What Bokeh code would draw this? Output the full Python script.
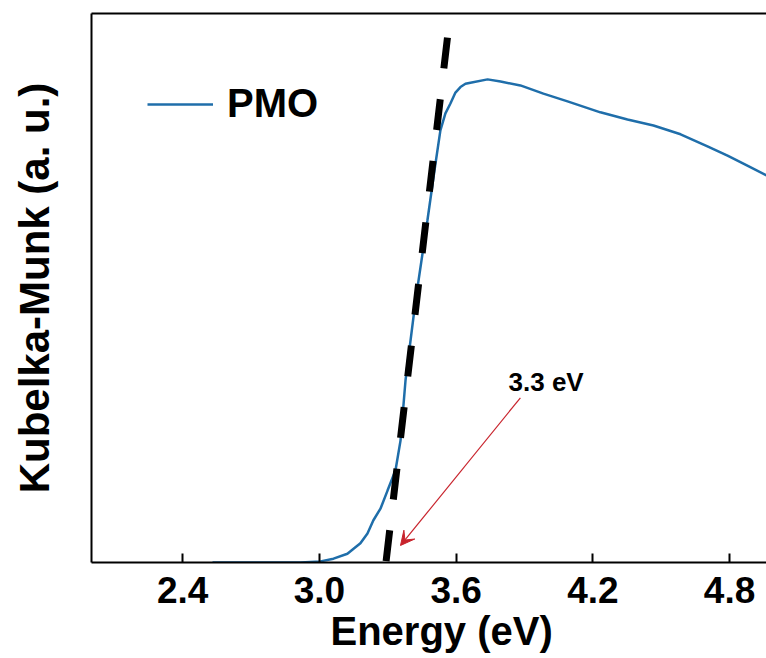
from bokeh.plotting import figure
from bokeh.models import LinearAxis, FixedTicker, Arrow, VeeHead, Range1d, Label, Title
from bokeh.embed import file_html
from bokeh.resources import INLINE

# ---- data ----
energy = [2.531, 2.742, 2.917, 3.005, 3.062, 3.123, 3.150, 3.180, 3.211, 3.237,
          3.268, 3.299, 3.334, 3.356, 3.378, 3.422, 3.474, 3.505, 3.531, 3.553,
          3.575, 3.597, 3.619, 3.641, 3.663, 3.738, 3.795, 3.882, 3.983, 4.089,
          4.233, 4.352, 4.466, 4.585, 4.703, 4.791, 4.878, 4.962]
km = [0.0, 0.0, 0.0, 0.002, 0.007, 0.016, 0.025, 0.035, 0.053, 0.077,
      0.098, 0.131, 0.168, 0.222, 0.332, 0.477, 0.623, 0.714, 0.787, 0.818,
      0.836, 0.856, 0.866, 0.872, 0.874, 0.880, 0.876, 0.869, 0.854, 0.840,
      0.820, 0.807, 0.796, 0.780, 0.758, 0.741, 0.723, 0.705]
tangent_x = [3.562, 3.292]
tangent_y = [0.956, 0.0]
x_ticks = [2.4, 3.0, 3.6, 4.2, 4.8]
x_tick_labels = ["2.4", "3.0", "3.6", "4.2", "4.8"]
x_title = "Energy (eV)"
y_title = "Kubelka-Munk (a. u.)"
gap_label = "3.3 eV"
arrow_start = (3.882, 0.300)
arrow_end = (3.356, 0.031)
label_pos = (3.830, 0.328)

FONT = "Liberation Sans"
BLUE = "#1f6eaa"

p = figure(width=766, height=658, output_backend="svg", toolbar_location=None,
           x_range=Range1d(2.0, 4.962), y_range=Range1d(0.0, 1.0),
           min_border_left=91, min_border_right=0, min_border_top=13,
           min_border_bottom=96, background_fill_color="white",
           border_fill_color="white", outline_line_color=None)
p.xgrid.visible = False
p.ygrid.visible = False

# curve
p.line(energy, km, line_color=BLUE, line_width=2.5, legend_label="PMO")
# tangent
p.line(tangent_x, tangent_y, line_color="black", line_width=7, line_dash="31 31")

# annotation
p.add_layout(Arrow(x_start=arrow_start[0], y_start=arrow_start[1],
                   x_end=arrow_end[0], y_end=arrow_end[1],
                   line_color="#c8232c", line_width=1.2,
                   end=VeeHead(size=14, fill_color="#c8232c", line_color="#c8232c")))
p.add_layout(Label(x=label_pos[0], y=label_pos[1], text=gap_label,
                   text_font=FONT, text_font_style="bold", text_font_size="26px",
                   text_color="black", text_baseline="alphabetic", text_align="left"))

# axes
xa = p.xaxis[0]
xa.ticker = FixedTicker(ticks=x_ticks)
xa.major_label_overrides = {t: l for t, l in zip(x_ticks, x_tick_labels)}
xa.major_tick_in = 9
xa.major_tick_out = 0
xa.minor_tick_line_color = None
xa.axis_line_width = 2
xa.major_tick_line_width = 2
xa.major_label_text_font = FONT
xa.major_label_text_font_style = "bold"
xa.major_label_text_font_size = "37px"
xa.major_label_text_color = "black"
xa.major_label_standoff = 14

ya = p.yaxis[0]
ya.ticker = FixedTicker(ticks=[])
ya.major_tick_in = 0
ya.major_tick_out = 0
ya.minor_tick_line_color = None
ya.axis_line_width = 2
ya.axis_label = y_title
ya.axis_label_text_font = FONT
ya.axis_label_text_font_style = "bold"
ya.axis_label_text_font_size = "42px"
ya.axis_label_text_color = "black"
ya.axis_label_standoff = 34

top = LinearAxis(ticker=FixedTicker(ticks=[]), major_tick_in=0, major_tick_out=0,
                 minor_tick_line_color=None, axis_line_width=2,
                 major_label_text_font_size="0px")
p.add_layout(top, "above")

p.add_layout(Title(text=x_title, align="left", offset=239, standoff=3,
                   text_font=FONT, text_font_style="bold", text_font_size="40px",
                   text_color="black"), "below")

# legend
lg = p.legend[0]
lg.location = (56, 436)
lg.border_line_color = None
lg.background_fill_alpha = 0
lg.label_text_font = FONT
lg.label_text_font_style = "bold"
lg.label_text_font_size = "40px"
lg.label_text_color = "black"
lg.glyph_width = 66
lg.glyph_height = 40
lg.label_standoff = 14
lg.padding = 0
lg.margin = 0

open("out.html", "w").write(file_html(p, INLINE))
